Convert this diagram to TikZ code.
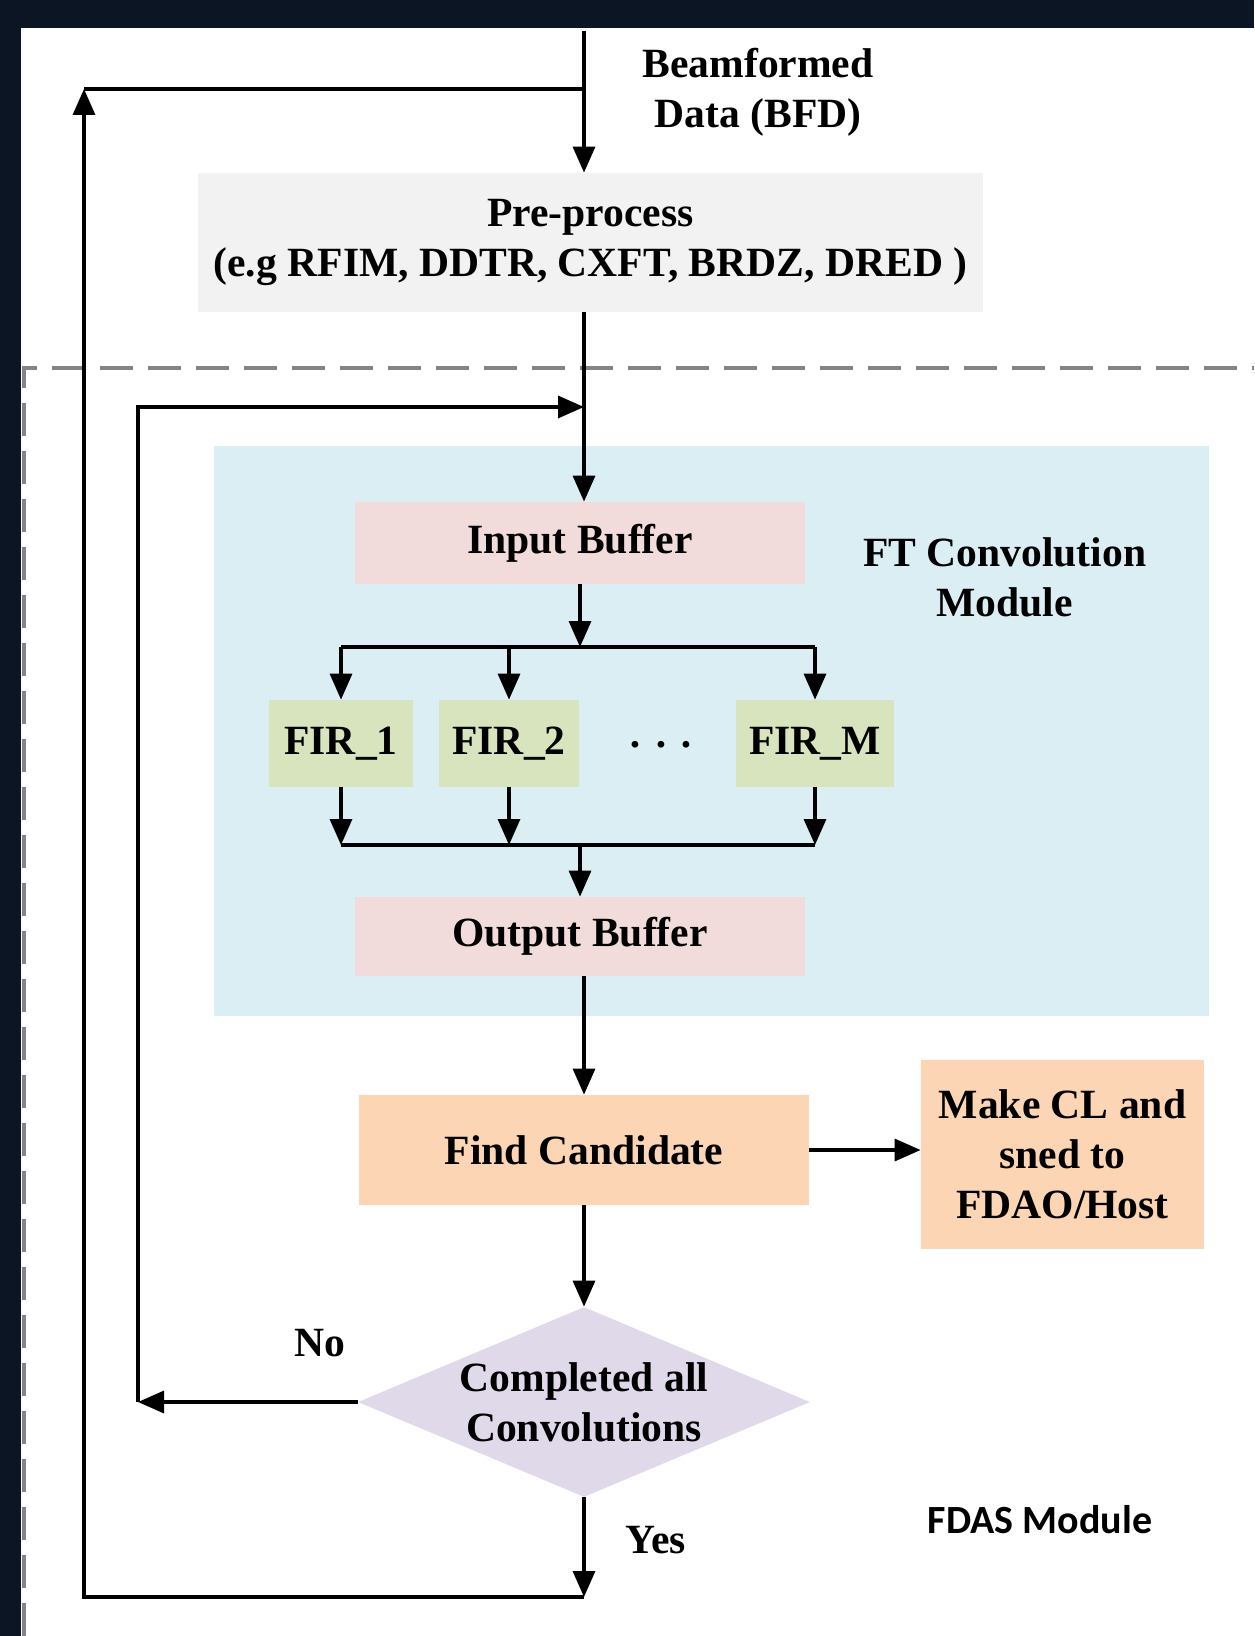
\documentclass[tikz,border=0pt]{standalone}
\usepackage{fontspec}
\setmainfont{Liberation Serif}
\newfontfamily\calib{Carlito}
\usetikzlibrary{arrows.meta,shapes.geometric}
\definecolor{bgdark}{HTML}{0B1524}
\definecolor{preg}{HTML}{F2F2F2}
\definecolor{convblue}{HTML}{DAEEF3}
\definecolor{bufpink}{HTML}{F2DCDB}
\definecolor{firgreen}{HTML}{D7E4BD}
\definecolor{candorange}{HTML}{FCD5B5}
\definecolor{declav}{HTML}{DFD9EA}
\definecolor{dashgray}{HTML}{858585}
\newcommand\mainfnt{\fontsize{20.8}{25}\selectfont\bfseries}
\tikzset{
  blk/.style={draw=none, inner sep=0pt, align=center, font=\mainfnt},
  lbl/.style={inner sep=0pt, align=center, font=\mainfnt},
  conn/.style={line width=1.7pt, black},
  arr/.style={conn, -{Triangle[length=13pt,width=11pt]}},
  frame/.style={dashgray, line width=2pt, dash pattern=on 16.5pt off 7.5pt},
}
\begin{document}
\begin{tikzpicture}[x=0.5pt,y=-0.5pt]
% background and page
\fill[bgdark] (0,0) rectangle (1254,1636);
\fill[white] (21,28) rectangle (1254,1636);
\useasboundingbox (0,0) rectangle (1254,1636);
% dashed FDAS frame
\draw[frame] (24,1636) -- (24,368) -- (1254,368);
% blue module
\node[blk, fill=convblue, minimum width=497.5pt, minimum height=285pt] (conv) at (711.5,731) {};
% boxes
\node[blk, fill=preg, minimum width=392.5pt, minimum height=69.5pt] (pre) at (590.5,242.5) {Pre-process\\(e.g RFIM, DDTR, CXFT, BRDZ, DRED )};
\node[blk, fill=bufpink, minimum width=225pt, minimum height=41pt] (ib) at (580,543) {Input Buffer};
\node[blk, fill=bufpink, minimum width=225pt, minimum height=39.5pt] (ob) at (580,936.5) {Output Buffer};
\node[blk, fill=firgreen, minimum width=72pt, minimum height=43.5pt] (fir1) at (341,743.5) {FIR\_1};
\node[blk, fill=firgreen, minimum width=70pt, minimum height=43.5pt] (fir2) at (509,743.5) {FIR\_2};
\node[blk, fill=firgreen, minimum width=79pt, minimum height=43.5pt] (firm) at (815,743.5) {FIR\_M};
\node[lbl] (dots) at (661,750) {\textperiodcentered\hspace{6pt}\textperiodcentered\hspace{6pt}\textperiodcentered};
\node[blk, fill=candorange, minimum width=225pt, minimum height=55pt] (fc) at (584,1150) {Find Candidate};
\node[blk, fill=candorange, minimum width=141.5pt, minimum height=94.5pt] (mk) at (1062.5,1154.5) {Make CL and\\sned to\\FDAO/Host};
\node[diamond, draw=none, fill=declav, inner sep=0pt, minimum width=226pt, minimum height=95pt] (dec) at (584,1402) {};
\node[lbl] (dectext) at (dec.center) {Completed all\\Convolutions};
% labels
\node[lbl] (bfd) at (758,92) {Beamformed\\Data (BFD)};
\node[lbl] (ftlbl) at (1004.6,577) {FT Convolution\\Module};
\node[lbl] (nolbl) at (320,1343) {No};
\node[lbl] (yeslbl) at (656,1540) {Yes};
\node[inner sep=0pt, font=\calib\bfseries\fontsize{20}{24}\selectfont] (fdas) at (1040,1520) {FDAS Module};
% coordinates
\coordinate (top) at (584,31);
\coordinate (j1) at (584,89);
\coordinate (ol) at (84,89);
\coordinate (ob2) at (84,1597);
\coordinate (yb) at (584,1597);
\coordinate (ilb) at (138,1402);
\coordinate (ilt) at (138,407);
\coordinate (mj) at (584,407);
\coordinate (bus1) at (580,647);
\coordinate (bus2) at (580,845);
% main flow
\draw[arr] (top) -- (top |- pre.north);
\draw[arr] (top |- pre.south) -- (top |- ib.north);
\draw[arr] (ib.south) -- (ib.south |- bus1);
\draw[conn] (fir1.north |- bus1) -- (firm.north |- bus1);
\draw[arr] (fir1.north |- bus1) -- (fir1.north);
\draw[arr] (fir2.north |- bus1) -- (fir2.north);
\draw[arr] (firm.north |- bus1) -- (firm.north);
\draw[arr] (fir1.south) -- (fir1.south |- bus2);
\draw[arr] (fir2.south) -- (fir2.south |- bus2);
\draw[arr] (firm.south) -- (firm.south |- bus2);
\draw[conn] (fir1.south |- bus2) -- (firm.south |- bus2);
\draw[arr] (ob.north |- bus2) -- (ob.north);
\draw[arr] (top |- ob.south) -- (fc.north);
\draw[arr] (fc.east) -- (fc.east -| mk.west);
\draw[arr] (fc.south) -- (dec.north);
% loops
\draw[arr] (dec.west) -- (ilb);
\draw[arr] (ilb) -- (ilt) -- (mj);
\draw[arr] (dec.south) -- (yb);
\draw[arr] (yb) -- (ob2) -- (ol);
\draw[conn] (ol) -- (j1);
\end{tikzpicture}
\end{document}
